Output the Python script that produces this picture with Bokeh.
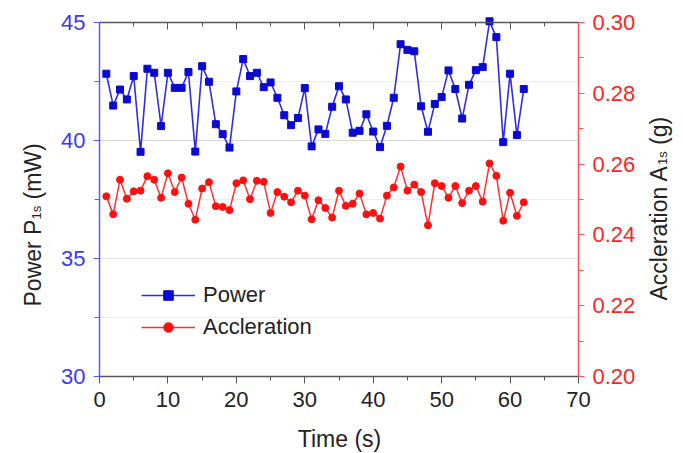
import math
from bokeh.plotting import figure
from bokeh.models import (Range1d, LinearAxis, SingleIntervalTicker, PrintfTickFormatter,
                          Legend, LegendItem, Label)
from bokeh.embed import file_html
from bokeh.resources import INLINE

# ---------------- data ----------------
time_s = list(range(1, 63))
power_mw = [42.83, 41.48, 42.16, 41.74, 42.73, 39.52, 43.04, 42.87, 40.61, 42.87,
            42.23, 42.23, 42.90, 39.53, 43.15, 42.49, 40.69, 40.27, 39.70, 42.08,
            43.45, 42.73, 42.87, 42.26, 42.46, 41.81, 41.07, 40.65, 40.95, 42.22,
            39.75, 40.47, 40.28, 41.43, 42.30, 41.74, 40.33, 40.41, 41.11, 40.38,
            39.72, 40.62, 41.81, 44.08, 43.84, 43.78, 41.45, 40.37, 41.55, 41.84,
            42.97, 42.18, 40.93, 42.36, 42.98, 43.11, 45.05, 44.38, 39.93, 42.83,
            40.23, 42.18]
accel_g = [0.2509, 0.2458, 0.2556, 0.2502, 0.2523, 0.2525, 0.2566, 0.2556, 0.2505, 0.2574,
           0.2521, 0.2562, 0.2488, 0.2443, 0.2531, 0.2549, 0.2481, 0.2479, 0.2470, 0.2546,
           0.2554, 0.2501, 0.2553, 0.2550, 0.2462, 0.2521, 0.2508, 0.2492, 0.2525, 0.2511,
           0.2444, 0.2498, 0.2476, 0.2449, 0.2525, 0.2482, 0.2488, 0.2517, 0.2458, 0.2462,
           0.2446, 0.2511, 0.2534, 0.2593, 0.2525, 0.2542, 0.2521, 0.2427, 0.2546, 0.2538,
           0.2505, 0.2538, 0.2490, 0.2525, 0.2538, 0.2494, 0.2602, 0.2567, 0.2440, 0.2519,
           0.2454, 0.2492]

x_lim = (0, 70)
p_lim = (30, 45)
a_lim = (0.20, 0.30)
grid_vals = [32.5, 35, 37.5, 40, 42.5]

# ---------------- layout (pixels) ----------------
W, H = 683, 453
AX_L, AX_R, AX_T, AX_B = 99, 578, 22, 376     # where the axes sit on the canvas
FONT = "Liberation Sans"
BLUE_AX = "#5a5aff"
BLUE_TXT = "#3a3af2"
RED_AX = "#ff5555"
RED_TXT = "#ff2222"
DARK = "#222222"
GREY = "#555555"

sx = (AX_R - AX_L) / (x_lim[1] - x_lim[0])
sy = (AX_B - AX_T) / (p_lim[1] - p_lim[0])
sa = (AX_B - AX_T) / (a_lim[1] - a_lim[0])
xr = Range1d(x_lim[0] - AX_L / sx, x_lim[1] + (W - AX_R) / sx)
yr = Range1d(p_lim[0] - (H - AX_B) / sy, p_lim[1] + AX_T / sy)
ar = Range1d(a_lim[0] - (H - AX_B) / sa, a_lim[1] + AX_T / sa)

def dx(px):
    return x_lim[0] + (px - AX_L) / sx
def dy(py):
    return p_lim[1] - (py - AX_T) / sy

p = figure(width=W, height=H, x_range=xr, y_range=yr, title=None,
           output_backend="svg", toolbar_location=None,
           min_border_left=0, min_border_right=0, min_border_top=0, min_border_bottom=0)
p.extra_y_ranges = {"acc": ar}
p.outline_line_color = None
p.background_fill_color = "white"
p.border_fill_color = "white"

def style_ticks(ax, color, t_in, t_out, m_in, m_out):
    ax.axis_line_color = color
    ax.major_tick_line_color = color
    ax.minor_tick_line_color = color
    ax.major_tick_in = t_in
    ax.major_tick_out = t_out
    ax.minor_tick_in = m_in
    ax.minor_tick_out = m_out

# bottom axis
xa = p.xaxis[0]
xa.ticker = SingleIntervalTicker(interval=10, num_minor_ticks=2)
xa.fixed_location = p_lim[0]
xa.bounds = x_lim
style_ticks(xa, GREY, 0, 7, 0, 4)
xa.axis_line_width = 1.3
xa.major_label_text_font = FONT
xa.major_label_text_font_size = "22px"
xa.major_label_text_color = DARK
xa.major_label_standoff = 8

# top axis
ta = LinearAxis(ticker=SingleIntervalTicker(interval=10, num_minor_ticks=2),
                fixed_location=p_lim[1], bounds=x_lim)
style_ticks(ta, GREY, 7, 0, 4, 0)
ta.axis_line_width = 1.3
ta.major_label_text_font_size = "1px"
ta.major_label_text_alpha = 0
p.add_layout(ta, "above")

# left axis
lt = SingleIntervalTicker(interval=5, num_minor_ticks=2)
la = p.yaxis[0]
la.ticker = lt
la.fixed_location = x_lim[0]
la.bounds = p_lim
style_ticks(la, BLUE_AX, 0, 6, 0, 5)
la.axis_line_width = 1.5
la.major_label_text_font = FONT
la.major_label_text_font_size = "22px"
la.major_label_text_color = BLUE_TXT
la.major_label_standoff = 8

# right axis
ra = LinearAxis(y_range_name="acc", ticker=SingleIntervalTicker(interval=0.02, num_minor_ticks=2),
                formatter=PrintfTickFormatter(format="%.2f"),
                fixed_location=x_lim[1], bounds=a_lim)
style_ticks(ra, RED_AX, 0, 6, 0, 5)
ra.axis_line_width = 1.5
ra.major_label_text_font = FONT
ra.major_label_text_font_size = "22px"
ra.major_label_text_color = RED_TXT
ra.major_label_standoff = 8
p.add_layout(ra, "right")

# grid
p.xgrid.grid_line_color = None
p.ygrid[0].visible = False
p.segment(x0=[x_lim[0]] * len(grid_vals), x1=[x_lim[1]] * len(grid_vals),
          y0=grid_vals, y1=grid_vals,
          line_color=["#ececec", "#e6e6e6", "#ececec", "#d8d8d8", "#ececec"], line_width=1.2,
          level="underlay")

# ---------------- series ----------------
lp = p.line(time_s, power_mw, line_color="#2f2fe0", line_width=1.6)
sp = p.scatter(time_s, power_mw, marker="square", size=7, fill_color="#0a0ad0",
               line_color="#0a0ad0")
lr = p.line(time_s, accel_g, y_range_name="acc", line_color="#ff3030", line_width=1.5)
sr = p.scatter(time_s, accel_g, y_range_name="acc", marker="circle", size=7,
               fill_color="#ff1010", line_color="#ff1010")

legend = Legend(items=[LegendItem(label="Power", renderers=[lp, sp]),
                       LegendItem(label="Accleration", renderers=[lr, sr])],
                location=(141, H - 340), padding=0, margin=0, spacing=6,
                glyph_width=54, glyph_height=24, label_height=24, label_standoff=8,
                background_fill_alpha=0, border_line_alpha=0,
                label_text_font=FONT, label_text_font_size="22px", label_text_color=DARK)
p.add_layout(legend, "center")

# ---------------- axis titles ----------------
ADV = {' ': 278, '(': 333, ')': 333, 'A': 667, 'P': 667, 'W': 944, 'a': 556, 'c': 500,
       'e': 556, 'g': 556, 'i': 222, 'l': 222, 'm': 833, 'n': 556, 'o': 556, 'r': 333,
       's': 500, 't': 278, 'w': 722, '1': 556}
def tw(s, size):
    return sum(ADV.get(ch, 556) for ch in s) * size / 1000.0

TS, SS = 23, 13
def vertical_title(parts, base_x, start_y):
    y = start_y
    for txt, size, shift in parts:
        lead = len(txt) - len(txt.lstrip(" "))
        y -= tw(" " * lead, size)
        core = txt.strip(" ")
        p.add_layout(Label(x=dx(base_x + shift), y=dy(y), text=core, angle=math.pi / 2,
                           text_align="left", text_baseline="alphabetic",
                           text_font=FONT, text_font_size=f"{size}px", text_color=DARK))
        y -= tw(core, size)

vertical_title([("Power P", TS, 0), ("1s", SS, 4), (" (mW)", TS, 0)], 32, 306)
vertical_title([("Accleration A", TS, 0), ("1s", SS, 4), (" (g)", TS, 0)], 658, 300)

p.add_layout(Label(x=dx(339), y=dy(438), text="Time (s)", text_align="center",
                   text_baseline="alphabetic", text_font=FONT, text_font_size=f"{TS}px",
                   text_color=DARK))

open("out.html", "w").write(file_html(p, INLINE))
